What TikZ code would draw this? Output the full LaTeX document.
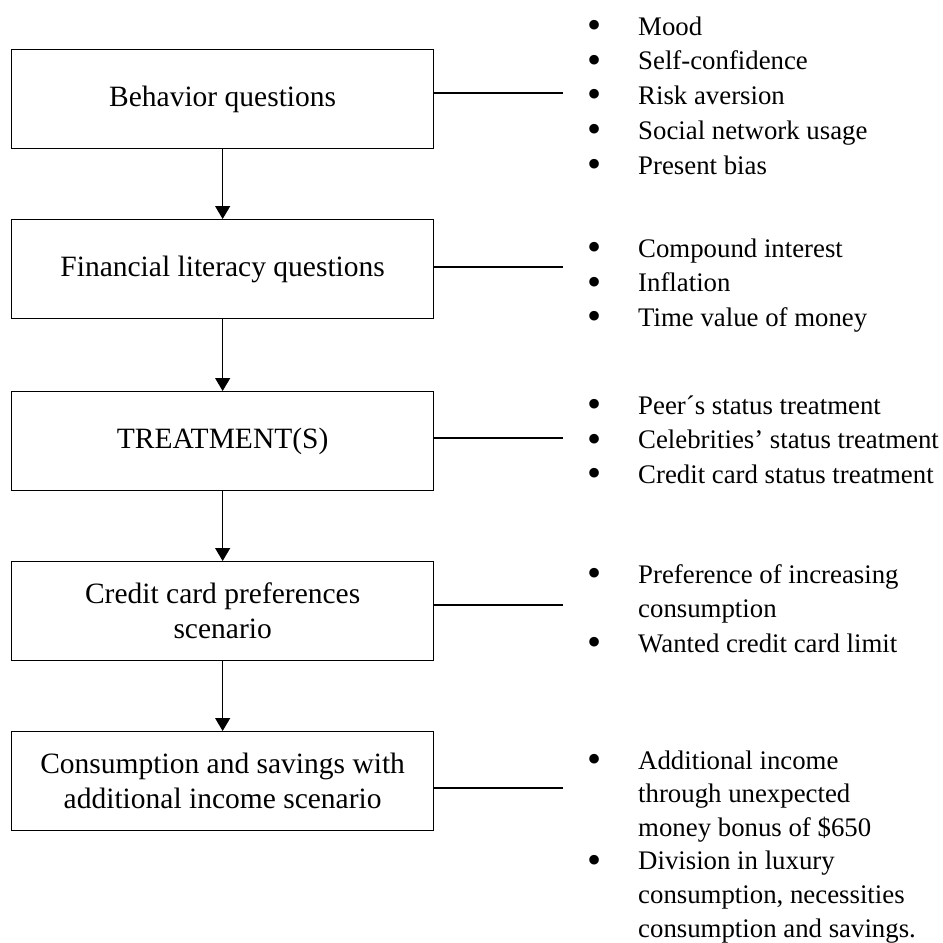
\documentclass[tikz,border=0pt]{standalone}
\usepackage{fontspec}
\setmainfont{Liberation Serif}
\usetikzlibrary{arrows.meta}
\newcommand{\bt}{\makebox[58pt][l]{\makebox[28pt]{\smash{\raisebox{-3.2pt}{\scalebox{1.5}{\textbullet}}}}}}
\begin{document}
\begin{tikzpicture}[x=1pt,y=1pt,
 box/.style={draw, line width=1.3pt, minimum width=422pt, minimum height=99pt, inner sep=0pt, align=center, font=\fontsize{29.5}{35}\selectfont, anchor=north west},
 flow/.style={line width=1.3pt, -{Triangle[length=13pt,width=15pt]}},
 tie/.style={line width=1.3pt},
 lst/.style={anchor=base west, inner sep=0pt, font=\fontsize{26.8}{34.8}\selectfont},
 lstb/.style={lst, font=\fontsize{26.8}{33.6}\selectfont}]
\useasboundingbox[fill=white] (0,0) rectangle (943,-943);
\node[box] (b1) at (11,-49) {Behavior questions};
\node[box] (b2) at (11,-219) {Financial literacy questions};
\node[box] (b3) at (11,-391) {TREATMENT(S)};
\node[box] (b4) at (11,-561) {Credit card preferences\\scenario};
\node[box] (b5) at (11,-731) {Consumption and savings with\\additional income scenario};
\draw[flow] (b1) -- (b2);
\draw[flow] (b2) -- (b3);
\draw[flow] (b3) -- (b4);
\draw[flow] (b4) -- (b5);
\coordinate (e1) at (563,-93);
\coordinate (e2) at (563,-267);
\coordinate (e3) at (563,-438);
\coordinate (e4) at (563,-605);
\coordinate (e5) at (563,-788);
\draw[tie] (e1 -| b1.east) -- (e1);
\draw[tie] (e2 -| b2.east) -- (e2);
\draw[tie] (e3 -| b3.east) -- (e3);
\draw[tie] (e4 -| b4.east) -- (e4);
\draw[tie] (e5 -| b5.east) -- (e5);
\node[lst] (l1) at (580,-35) {\begin{tabular}[t]{@{}l@{}l@{}}
\bt & Mood\\ \bt & Self-confidence\\ \bt & Risk aversion\\ \bt & Social network usage\\ \bt & Present bias
\end{tabular}};
\node[lst] (l2) at (580,-257) {\begin{tabular}[t]{@{}l@{}l@{}}
\bt & Compound interest\\ \bt & Inflation\\ \bt & Time value of money
\end{tabular}};
\node[lst] (l3) at (580,-414) {\begin{tabular}[t]{@{}l@{}l@{}}
\bt & Peer´s status treatment\\ \bt & Celebrities’ status treatment\\ \bt & Credit card status treatment
\end{tabular}};
\node[lst] (l4) at (580,-583) {\begin{tabular}[t]{@{}l@{}l@{}}
\bt & Preference of increasing\\ & consumption\\ \bt & Wanted credit card limit
\end{tabular}};
\node[lstb] (l5) at (580,-769) {\begin{tabular}[t]{@{}l@{}l@{}}
\bt & Additional income\\ & through unexpected\\ & money bonus of \$650\\ \bt & Division in luxury\\ & consumption, necessities\\ & consumption and savings.
\end{tabular}};
\end{tikzpicture}
\end{document}
